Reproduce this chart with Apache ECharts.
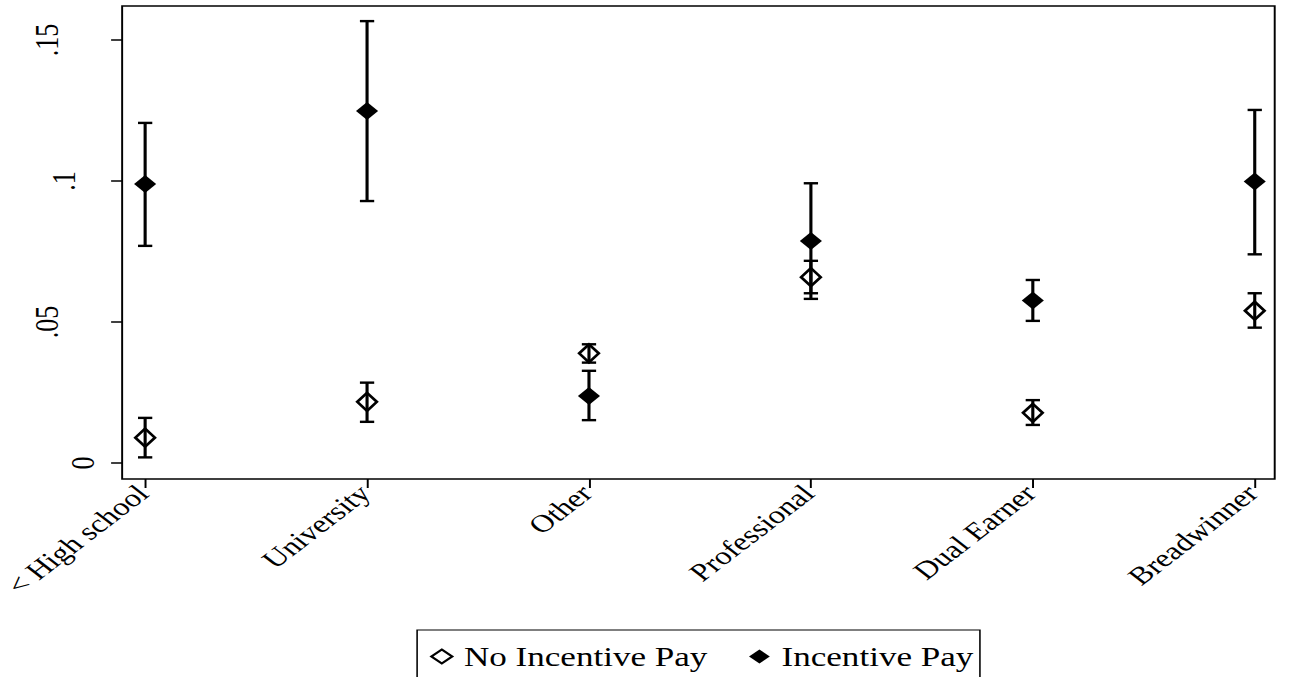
<!DOCTYPE html>
<html>
<head>
<meta charset="utf-8">
<script src="https://cdn.jsdelivr.net/npm/echarts@6/dist/echarts.min.js"></script>
<style>
  html, body { margin: 0; padding: 0; background: #fff; overflow: hidden; }
  /* the reference is a stretched Stata graph, so draw narrow and stretch it */
  #chart { width: 992px; height: 677px; transform: scaleX(1.2994); transform-origin: 0 0; }
</style>
</head>
<body>
<div id="chart"></div>
<script>
var categories = ['< High school', 'University', 'Other', 'Professional', 'Dual Earner', 'Breadwinner'];

var noIncMean = [0.0090, 0.0217, 0.0389, 0.0659, 0.0178, 0.0540];
var noIncLo   = [0.0020, 0.0146, 0.0356, 0.0602, 0.0135, 0.0480];
var noIncHi   = [0.0160, 0.0285, 0.0421, 0.0717, 0.0223, 0.0602];

var incMean = [0.0989, 0.1248, 0.0238, 0.0787, 0.0576, 0.0998];
var incLo   = [0.0770, 0.0929, 0.0152, 0.0582, 0.0504, 0.0740];
var incHi   = [0.1206, 0.1567, 0.0327, 0.0992, 0.0649, 0.1252];

var yTickValues = [0, 0.05, 0.1, 0.15];
var yTickLabels = ['0', '.05', '.1', '.15'];
var xTickValues = [0, 1, 2, 3, 4, 5];

var font = 'Liberation Serif';

function points(mean) {
    return mean.map(function (v, i) { return [i, v]; });
}
function ranges(lo, hi) {
    return lo.map(function (v, i) { return [i, v, hi[i]]; });
}

function errorBar(params, api) {
    var x = api.value(0);
    var lo = api.coord([x, api.value(1)]);
    var hi = api.coord([x, api.value(2)]);
    var cap = 5.5;
    var style = { stroke: '#000', lineWidth: 2.4 };
    return {
        type: 'group',
        children: [
            { type: 'line', shape: { x1: lo[0], y1: lo[1], x2: hi[0], y2: hi[1] }, style: style },
            { type: 'line', shape: { x1: lo[0] - cap, y1: lo[1], x2: lo[0] + cap, y2: lo[1] }, style: style },
            { type: 'line', shape: { x1: hi[0] - cap, y1: hi[1], x2: hi[0] + cap, y2: hi[1] }, style: style }
        ]
    };
}

// stata pushes the longer rotated labels further from the axis
var yLabelRich = {
    l0: { fontFamily: font, fontSize: 26, color: '#000', padding: [0, 0, 0, 0] },
    l1: { fontFamily: font, fontSize: 26, color: '#000', padding: [0, 0, 28, 0] },
    l2: { fontFamily: font, fontSize: 26, color: '#000', padding: [0, 0, 15, 0] },
    l3: { fontFamily: font, fontSize: 26, color: '#000', padding: [0, 0, 28, 0] }
};

var option = {
    animation: false,
    grid: {
        left: 94,
        right: 11,
        top: 6,
        bottom: 198,
        outerBoundsMode: 'none',
        show: true,
        borderColor: '#000',
        borderWidth: 1.5,
        backgroundColor: '#fff'
    },
    legend: {
        data: ['No Incentive Pay', 'Incentive Pay'],
        left: 321,
        top: 630,
        padding: [13, 5, 30, 10],
        itemGap: 32,
        itemWidth: 16,
        itemHeight: 14,
        borderColor: '#000',
        borderWidth: 1.2,
        textStyle: { fontFamily: font, fontSize: 27, color: '#000', padding: [0, 0, 0, 4] }
    },
    xAxis: {
        type: 'value',
        min: -0.1036,
        max: 5.09,
        splitLine: { show: false },
        axisLine: { show: false, onZero: false },
        axisTick: { show: true, length: 9, customValues: xTickValues, lineStyle: { color: '#000', width: 1.5 } },
        axisLabel: {
            customValues: xTickValues,
            rotate: 45,
            margin: 8,
            fontFamily: font,
            fontSize: 25,
            color: '#000',
            padding: [0, 3, 0, 0],
            formatter: function (v) { return categories[Math.round(v)]; }
        }
    },
    yAxis: {
        type: 'value',
        min: -0.00567,
        max: 0.16206,
        splitLine: { show: false },
        axisLine: { show: false, onZero: false },
        axisTick: { show: true, length: 8.5, customValues: yTickValues, lineStyle: { color: '#000', width: 1.5 } },
        axisLabel: {
            customValues: yTickValues,
            rotate: 90,
            margin: 17,
            rich: yLabelRich,
            formatter: function (v) {
                var i = yTickValues.indexOf(v);
                return i >= 0 ? '{l' + i + '|' + yTickLabels[i] + '}' : '';
            }
        }
    },
    series: [
        {
            name: 'noIncCI',
            type: 'custom',
            renderItem: errorBar,
            data: ranges(noIncLo, noIncHi),
            z: 2
        },
        {
            name: 'incCI',
            type: 'custom',
            renderItem: errorBar,
            data: ranges(incLo, incHi),
            z: 2
        },
        {
            name: 'No Incentive Pay',
            type: 'scatter',
            symbol: 'diamond',
            symbolSize: [15, 18],
            itemStyle: { color: 'rgba(255,255,255,0)', borderColor: '#000', borderWidth: 2.4, opacity: 1 },
            data: points(noIncMean),
            z: 3
        },
        {
            name: 'Incentive Pay',
            type: 'scatter',
            symbol: 'diamond',
            symbolSize: [17, 18],
            itemStyle: { color: '#000', opacity: 1 },
            data: points(incMean),
            z: 3
        }
    ]
};

var chart = echarts.init(document.getElementById('chart'), null, { renderer: 'svg' });
chart.setOption(option);
</script>
</body>
</html>
